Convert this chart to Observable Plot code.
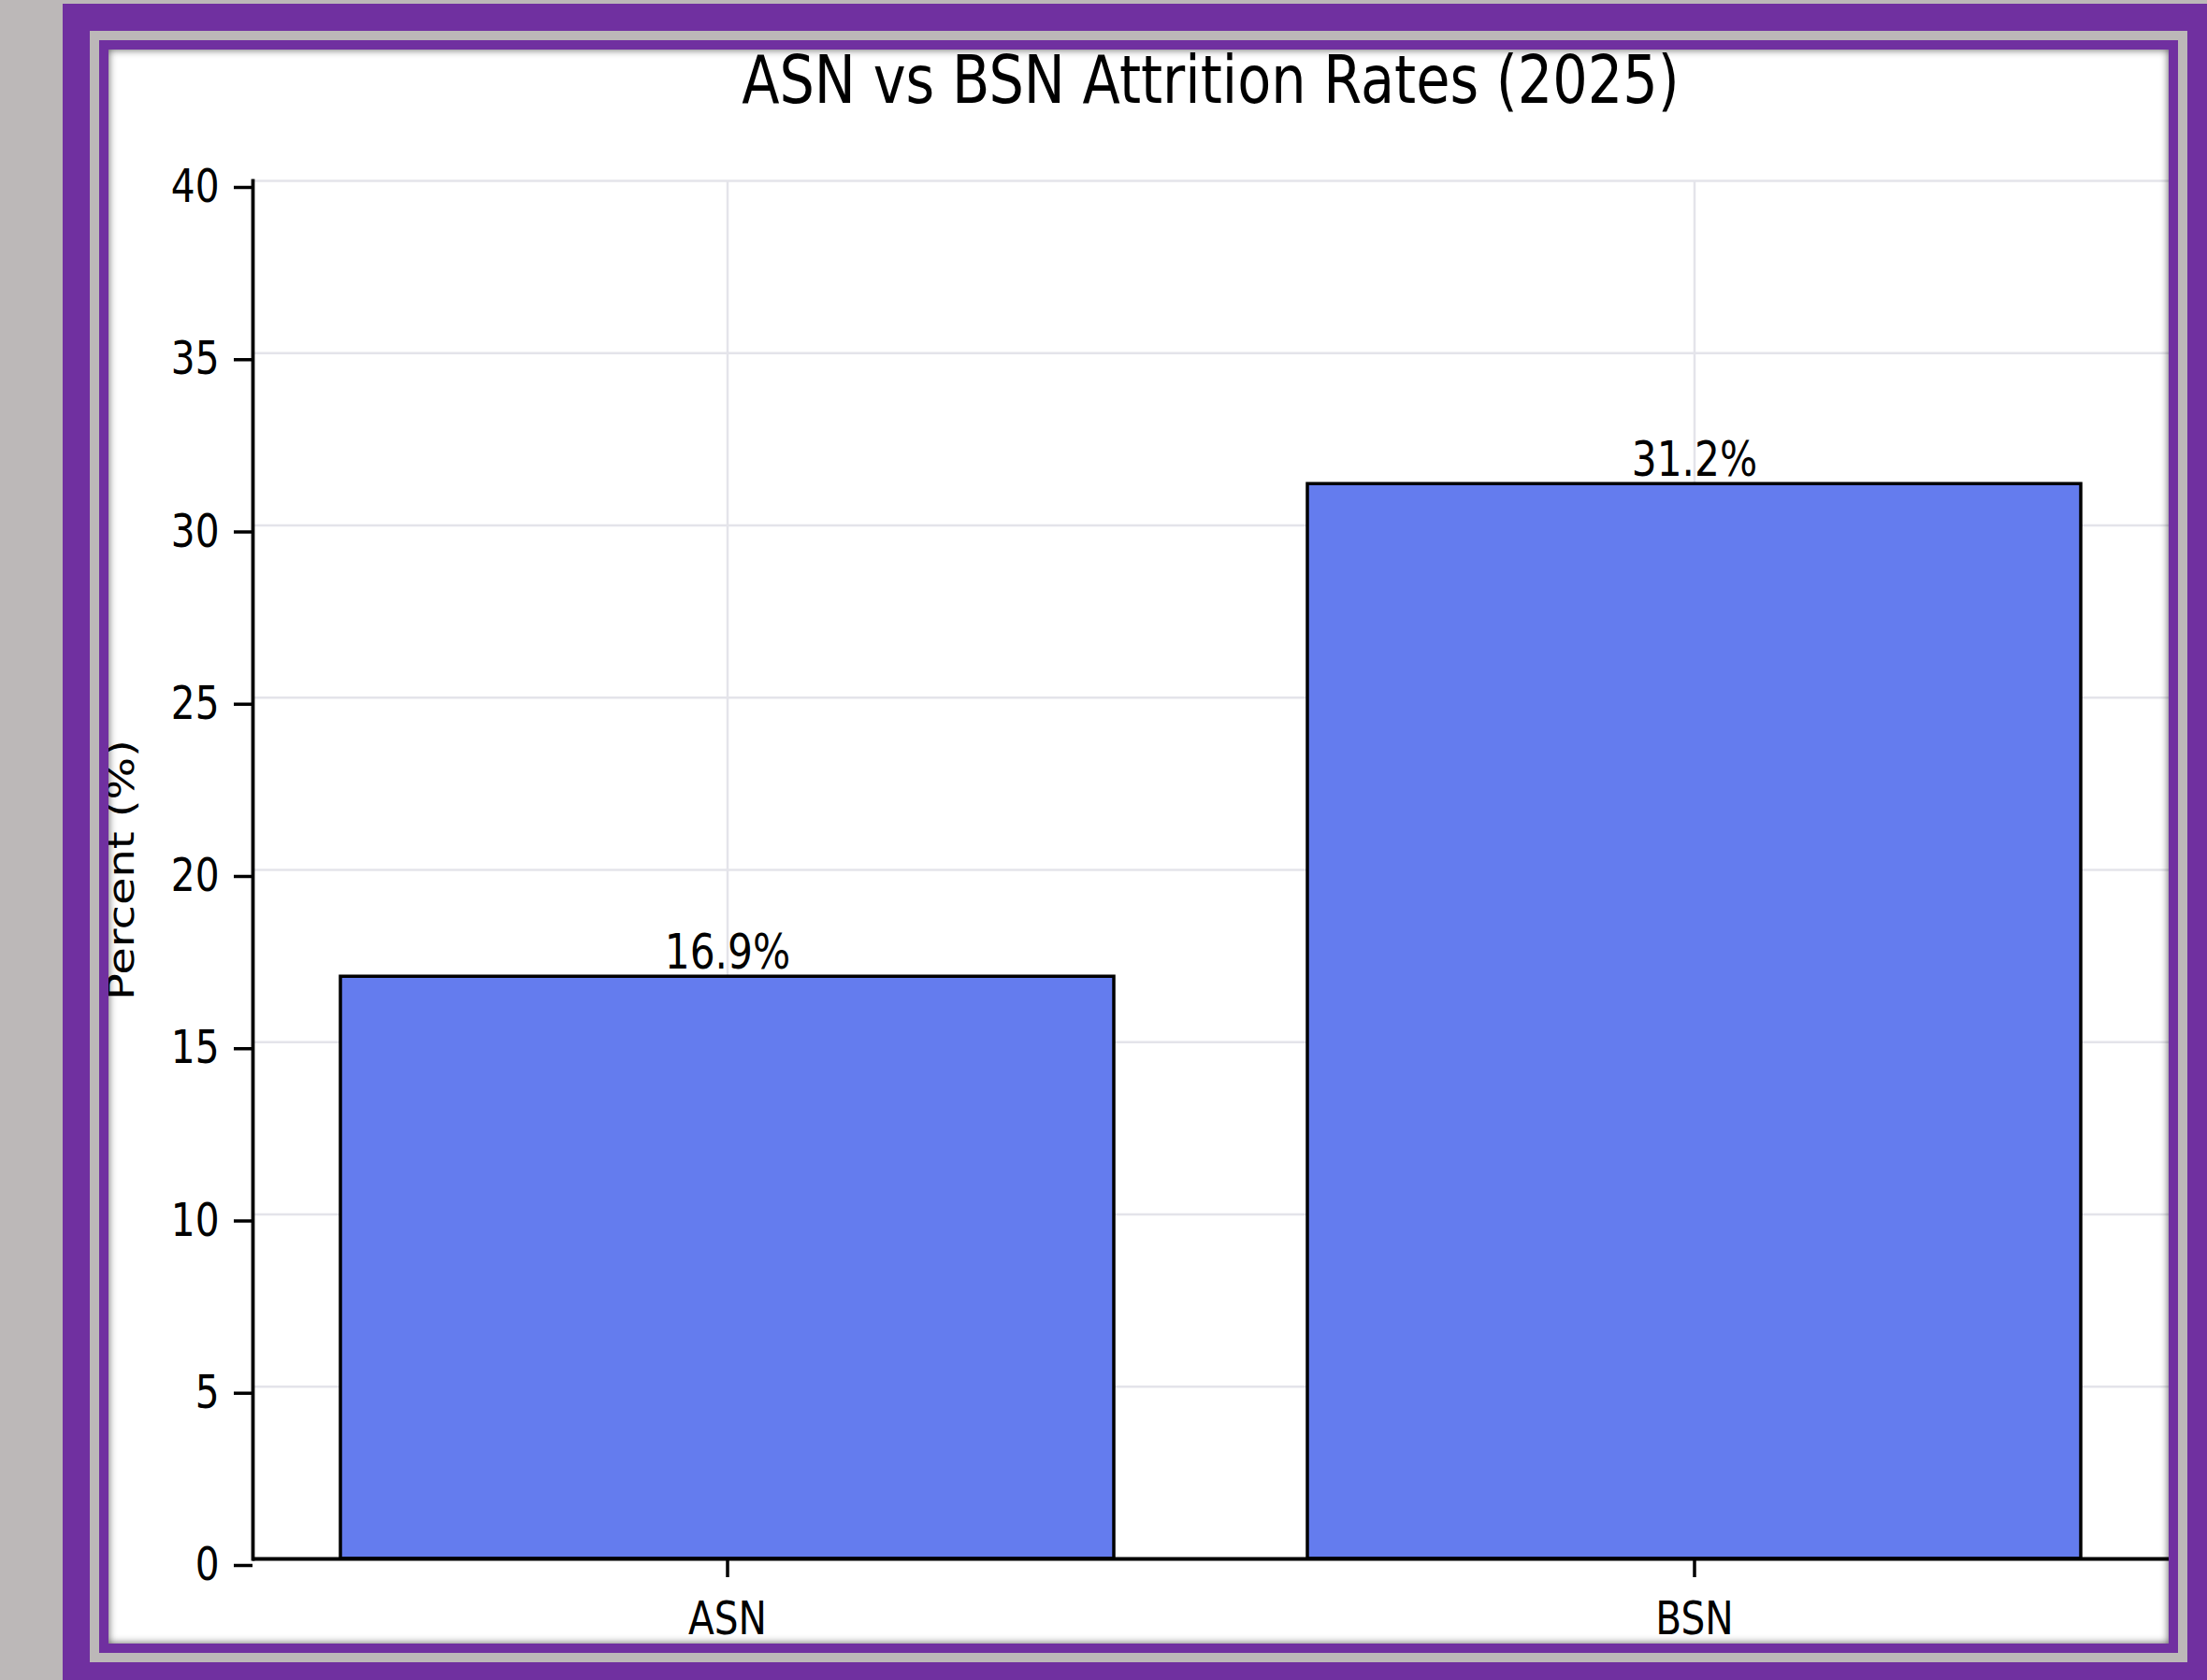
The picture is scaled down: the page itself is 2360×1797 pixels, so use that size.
<!DOCTYPE html>
<html>
<head>
<meta charset="utf-8">
<script src="https://cdn.jsdelivr.net/npm/d3@7"></script>
<script src="https://cdn.jsdelivr.net/npm/@observablehq/plot@0.6"></script>
<style>
  html, body { margin: 0; padding: 0; width: 2360px; height: 1797px; overflow: hidden; background: #bcb8b8; }
  .outer { position: absolute; left: 67px; top: 4px; border: 29px solid #7030a0; background: #bcb8b8; padding: 10px; }
  .inner { position: relative; border: 10px solid #7030a0; width: 2203px; height: 1705px; background: #ffffff; overflow: hidden; }
  .shadow { position: absolute; left: 0; top: 0; width: 2203px; height: 1705px; box-shadow: inset 0 0 9px rgba(0,0,0,0.65); pointer-events: none; }
  .title { position: absolute; left: 154px; width: 2049px; top: -3px; text-align: center; font-family: "DejaVu Sans"; font-size: 71px; line-height: 1; color: #000; transform: scaleX(0.83); transform-origin: center; white-space: nowrap; }
  #chart { position: absolute; left: 0; top: 0; }
  #chart svg { font-family: "DejaVu Sans"; }
</style>
</head>
<body>
<div class="outer">
  <div class="inner">
    <div id="chart"></div>
    <div class="title">ASN vs BSN Attrition Rates (2025)</div>
    <div class="shadow"></div>
  </div>
</div>
<script>
const categories = ["ASN", "BSN"];
const values = [16.9, 31.2];
const yTicks = [0, 5, 10, 15, 20, 25, 30, 35, 40];
const yLabel = "Percent (%)";

const data = categories.map((c, i) => ({cat: c, val: values[i]}));

const chart = Plot.plot({
  width: 2203,
  height: 1705,
  marginLeft: 154,
  marginRight: 0,
  marginTop: 140,
  marginBottom: 91,
  style: {fontFamily: "DejaVu Sans", background: "transparent", overflow: "visible"},
  x: {domain: categories, paddingInner: 0.2, paddingOuter: 0.09, axis: null},
  y: {domain: [0, 40], axis: null},
  marks: [
    Plot.gridY(yTicks, {stroke: "#e4e4ea", strokeOpacity: 1, strokeWidth: 2.5}),
    Plot.gridX(categories, {stroke: "#e4e4ea", strokeOpacity: 1, strokeWidth: 2.5}),
    Plot.barY(data, {x: "cat", y: "val", fill: "#647cee", stroke: "#000", strokeWidth: 3.5}),
    Plot.text(data, {x: "cat", y: "val", text: d => d.val.toFixed(1) + "%", lineAnchor: "bottom", dy: -9, fontSize: 51, fill: "#000"}),
    Plot.ruleY([0], {stroke: "#000", strokeWidth: 3.8}),
    Plot.frame({anchor: "left", stroke: "#000", strokeWidth: 3.8}),
    Plot.axisY(yTicks, {tickSize: 20, tickPadding: 16, fontSize: 49, stroke: "#000", strokeWidth: 3.5, fill: "#000", dy: 7, label: null, tickFormat: d => String(d)}),
    Plot.axisX(categories, {tickSize: 20, tickPadding: 26, fontSize: 49, stroke: "#000", strokeWidth: 3.5, fill: "#000", label: null}),
    Plot.text([yLabel], {frameAnchor: "left", text: d => d, rotate: -90, dx: -140, fontSize: 48, fill: "#000", lineAnchor: "middle", textAnchor: "middle"})
  ]
});

// emulate the horizontally condensed glyphs of the reference
chart.querySelectorAll("text").forEach(t => {
  const tr = t.getAttribute("transform") || "";
  if (tr.includes("rotate")) t.setAttribute("transform", tr + " scale(1,0.82)");
  else t.setAttribute("transform", tr + " scale(0.83,1)");
});

document.getElementById("chart").appendChild(chart);
</script>
</body>
</html>
